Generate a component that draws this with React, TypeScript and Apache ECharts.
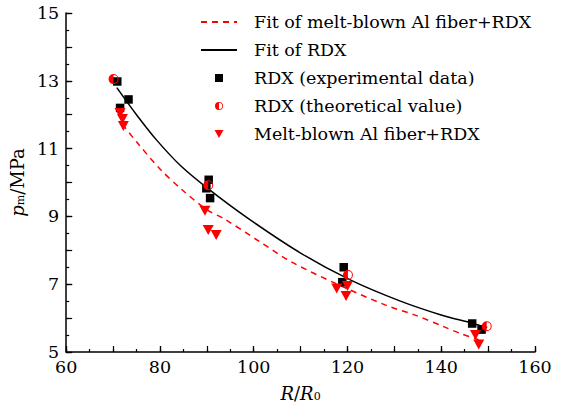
import React, { useEffect, useRef } from "react";
import * as echarts from "echarts";

// ---- data ----
const rdxExpX = [70.9, 73.3, 71.5, 90.4, 89.9, 90.7, 119.2, 118.9, 146.6, 148.6];
const rdxExpY = [12.98, 12.45, 12.2, 10.08, 9.83, 9.54, 7.5, 7.06, 5.84, 5.66];

const rdxTheoX = [70.1, 90.3, 120.1, 149.7];
const rdxTheoY = [13.05, 9.92, 7.27, 5.76];

const meltX = [71.5, 72.0, 72.2, 89.6, 90.3, 92.0, 117.7, 120.0, 119.7, 147.3, 148.0];
const meltY = [12.05, 11.87, 11.67, 9.17, 8.6, 8.45, 6.87, 6.95, 6.65, 5.5, 5.22];

const fitRdxX = [70.8, 75, 79.3, 84.6, 90.6, 98.8, 110.1, 120.7, 131.3, 139.8, 146.6, 149.8];
const fitRdxY = [12.8, 12.0, 11.25, 10.47, 9.78, 8.94, 7.91, 7.12, 6.5, 6.1, 5.85, 5.72];

const fitMeltX = [72, 75, 80, 84.6, 90, 93.8, 101, 108, 117.2, 128, 134.6, 140.5, 144, 148];
const fitMeltY = [11.72, 11.2, 10.4, 9.8, 9.2, 8.92, 8.28, 7.66, 7.04, 6.39, 6.08, 5.75, 5.55, 5.36];

const seriesNames = [
  "Fit of melt-blown Al fiber+RDX",
  "Fit of RDX",
  "RDX (experimental data)",
  "RDX (theoretical value)",
  "Melt-blown Al fiber+RDX",
];

const FONT = "DejaVu Serif";
const RED = "#ff0000";

const SQUARE = "path://M0 0H10V10H0Z";
const TRI_DOWN = "path://M0 0H10L5 9Z";
const HALF_CIRCLE =
  "path://M10 0A10 10 0 0 0 10 20Z M10 0A10 10 0 0 1 10 20L10 18A8 8 0 0 0 10 2Z";

const pairs = (xs: number[], ys: number[]) => xs.map((x, i) => [x, ys[i]]);

export default function App() {
  const ref = useRef<HTMLDivElement>(null);
  useEffect(() => {
    document.body.style.margin = "0";
    const chart = echarts.init(ref.current!, null, { renderer: "svg" });
    const nameRich = {
      i: { fontStyle: "italic", fontSize: 18, fontFamily: FONT, color: "#000", verticalAlign: "bottom", lineHeight: 20 },
      n: { fontSize: 18, fontFamily: FONT, color: "#000", verticalAlign: "bottom", lineHeight: 20 },
      sub: { fontSize: 11, fontFamily: FONT, color: "#000", verticalAlign: "bottom", lineHeight: 16 },
    };
    // x axes: ticks drawn inward through a negative outward length
    const xTickOnly = (interval: number, length: number) => ({
      type: "value",
      position: "bottom",
      offset: 0,
      min: 60,
      max: 160,
      interval,
      axisLine: { show: false },
      axisTick: { show: true, inside: false, length: -length, lineStyle: { color: "#000", width: 1.2 } },
      axisLabel: { show: false },
      splitLine: { show: false },
    });
    const yTickOnly = (interval: number, length: number) => ({
      type: "value",
      position: "left",
      offset: 0,
      min: 5,
      max: 15,
      interval,
      axisLine: { show: false },
      axisTick: { show: true, inside: true, length, lineStyle: { color: "#000", width: 1.2 } },
      axisLabel: { show: false },
      splitLine: { show: false },
    });
    chart.setOption({
      animation: false,
      textStyle: { fontFamily: FONT },
      grid: { left: 64, right: 28, top: 13, bottom: 57 },
      legend: {
        orient: "vertical",
        left: 195,
        top: 8,
        itemWidth: 36,
        itemHeight: 8,
        itemGap: 10,
        data: seriesNames.map((n, i) =>
          i < 2 ? { name: n, itemStyle: { opacity: 0 } } : { name: n }
        ),
        textStyle: { fontFamily: FONT, fontSize: 17.5, color: "#000", padding: [0, 0, 0, 12] },
      },
      xAxis: [
        {
          type: "value",
          position: "bottom",
          min: 60,
          max: 160,
          interval: 20,
          axisLine: { show: true, lineStyle: { color: "#000", width: 1.5 } },
          axisTick: { show: true, inside: false, length: -6, lineStyle: { color: "#000", width: 1.2 } },
          splitLine: { show: false },
          axisLabel: { color: "#000", fontSize: 17.5, fontFamily: FONT, margin: 6 },
          name: "{i|R}{n|/}{i|R}{sub|0}",
          nameLocation: "middle",
          nameGap: 30,
          nameTextStyle: { rich: nameRich },
        },
        xTickOnly(10, 6),
        xTickOnly(5, 3),
      ],
      yAxis: [
        {
          type: "value",
          position: "left",
          min: 5,
          max: 15,
          interval: 2,
          axisLine: { show: true, lineStyle: { color: "#000", width: 1.5 } },
          axisTick: { show: true, inside: true, length: 6, lineStyle: { color: "#000", width: 1.2 } },
          splitLine: { show: false },
          axisLabel: { color: "#000", fontSize: 17.5, fontFamily: FONT, margin: 7 },
          name: "{i|p}{sub|m}{n|/MPa}",
          nameLocation: "middle",
          nameRotate: 90,
          nameGap: 27,
          nameTextStyle: { rich: nameRich },
        },
        yTickOnly(1, 6),
        yTickOnly(0.5, 3),
      ],
      series: [
        {
          name: seriesNames[0],
          type: "line",
          data: pairs(fitMeltX, fitMeltY),
          smooth: 0.3,
          symbol: "none",
          showSymbol: false,
          lineStyle: { color: RED, width: 1.5, type: [6, 5] },
          itemStyle: { color: RED },
          z: 2,
        },
        {
          name: seriesNames[1],
          type: "line",
          data: pairs(fitRdxX, fitRdxY),
          smooth: 0.3,
          symbol: "none",
          showSymbol: false,
          lineStyle: { color: "#000", width: 1.5 },
          itemStyle: { color: "#000" },
          z: 2,
        },
        {
          name: seriesNames[2],
          type: "scatter",
          data: pairs(rdxExpX, rdxExpY),
          symbol: SQUARE,
          symbolSize: [8.5, 8.5],
          itemStyle: { color: "#000", opacity: 1 },
          z: 3,
        },
        {
          name: seriesNames[3],
          type: "scatter",
          data: pairs(rdxTheoX, rdxTheoY),
          symbol: HALF_CIRCLE,
          symbolSize: [10, 10],
          itemStyle: { color: RED, opacity: 1 },
          z: 4,
        },
        {
          name: seriesNames[4],
          type: "scatter",
          data: pairs(meltX, meltY),
          symbol: TRI_DOWN,
          symbolSize: [11, 10],
          itemStyle: { color: RED, opacity: 1 },
          z: 5,
        },
      ],
    });
    return () => chart.dispose();
  }, []);
  return <div ref={ref} style={{ width: 563, height: 409 }} />;
}
